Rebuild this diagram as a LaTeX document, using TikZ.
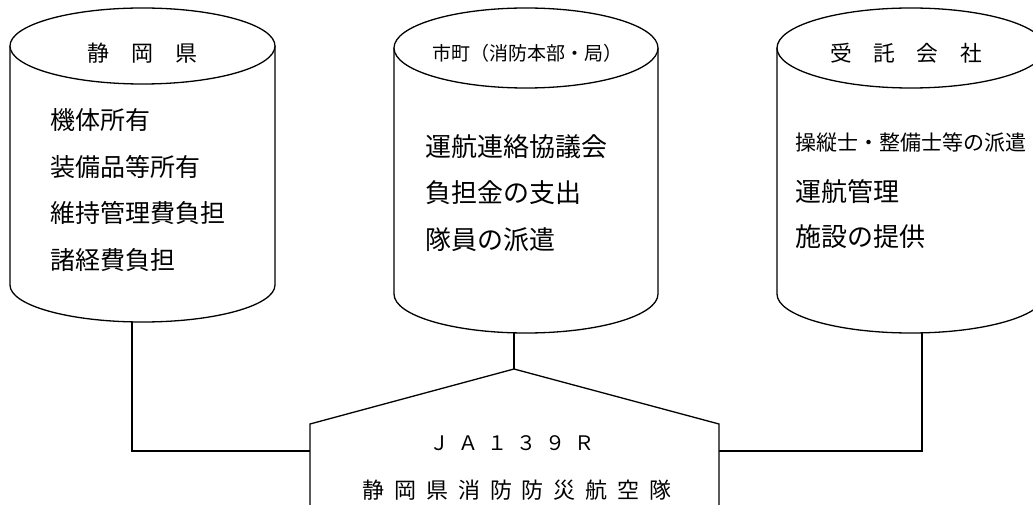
\documentclass[tikz,border=0pt]{standalone}
\usepackage{fontspec}
\setmainfont{Noto Sans CJK JP}
\newfontfamily\jpsp[LetterSpace=45]{Noto Sans CJK JP}
\begin{document}
\begin{tikzpicture}[x=1pt,y=1pt,
  cyl/.style={line width=1.3pt,fill=white},
  conn/.style={line width=1.3pt},
  ttl/.style={inner sep=0pt,anchor=center},
  body/.style={inner sep=0pt,anchor=west}]
\useasboundingbox[fill=white] (0,0) rectangle (1033,504);
% connector end points
\coordinate (lb) at (132,321);
\coordinate (mb) at (514,216);
\coordinate (rb) at (922,172);
\coordinate (apex) at (514,135);
\coordinate (pl) at (310,53);
\coordinate (pr) at (719,53);
% connectors
\draw[conn] (lb) |- (pl);
\draw[conn] (rb) |- (pr);
\draw[conn] (mb) -- (apex);
% pentagon
\draw[conn,fill=white] (310,-5) -- (310,80) -- (apex) -- (719,80) -- (719,-5);
% left cylinder
\draw[cyl] (10,458) -- (10,219) arc[start angle=180,end angle=360,x radius=132.5,y radius=37] -- (275,458);
\draw[cyl] (142.5,458) ellipse[x radius=132.5,y radius=38];
% middle cylinder
\draw[cyl] (394,456) -- (394,210) arc[start angle=180,end angle=360,x radius=132,y radius=39] -- (658,456);
\draw[cyl] (526,456) ellipse[x radius=132,y radius=40];
% right cylinder
\draw[cyl] (777,456) -- (777,210) arc[start angle=180,end angle=360,x radius=134,y radius=39] -- (1045,456);
\draw[cyl] (911,456) ellipse[x radius=134,y radius=40];
% titles
\node[ttl,font=\fontsize{22}{22}\selectfont] (t1) at (142,451) {静　岡　県};
\node[ttl,font=\fontsize{19}{19}\selectfont] (t2) at (527,451) {市町（消防本部・局）};
\node[ttl,font=\fontsize{21.7}{22}\selectfont] (t3) at (906,451) {受　託　会　社};
% left body
\begin{scope}[font=\fontsize{25}{25}\selectfont]
\node[body] (l1) at (50,384) {機体所有};
\node[body] (l2) at (50,337) {装備品等所有};
\node[body] (l3) at (50,291) {維持管理費負担};
\node[body] (l4) at (50,244) {諸経費負担};
\end{scope}
% middle body
\begin{scope}[font=\fontsize{26}{26}\selectfont]
\node[body] (m1) at (425,357) {運航連絡協議会};
\node[body] (m2) at (425,311) {負担金の支出};
\node[body] (m3) at (425,264) {隊員の派遣};
\end{scope}
% right body
\node[body,font=\fontsize{21}{21}\selectfont] (r1) at (795,361) {操縦士・整備士等の派遣};
\node[body,font=\fontsize{26}{26}\selectfont] (r2) at (795,312) {運航管理};
\node[body,font=\fontsize{26}{26}\selectfont] (r3) at (795,267) {施設の提供};
% bottom labels
\node[ttl,font=\jpsp\fontsize{20}{20}\selectfont] (j1) at (512,61) {ＪＡ１３９Ｒ};
\node[ttl,font=\jpsp\fontsize{22}{22}\selectfont] (j2) at (517,14) {静岡県消防防災航空隊};
\end{tikzpicture}
\end{document}
